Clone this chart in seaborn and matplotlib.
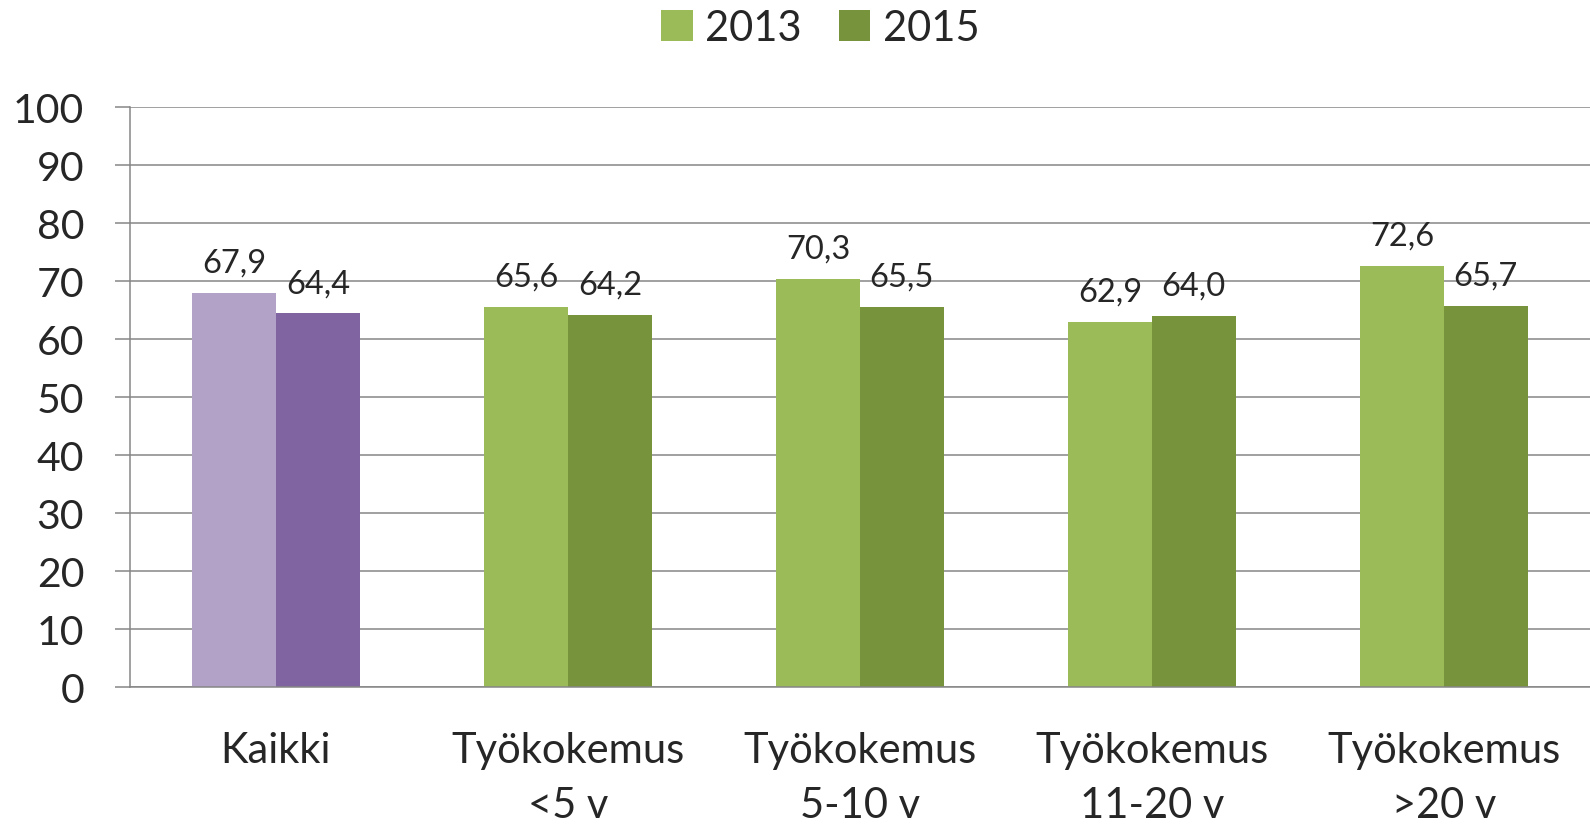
import matplotlib.pyplot as plt
import pandas as pd
import seaborn as sns

categories = ["Kaikki", "Työkokemus\n<5 v", "Työkokemus\n5-10 v",
              "Työkokemus\n11-20 v", "Työkokemus\n>20 v"]
years = ["2013", "2015"]
values_2013 = [67.9, 65.6, 70.3, 62.9, 72.6]
values_2015 = [64.4, 64.2, 65.5, 64.0, 65.7]
y_ticks = [0, 10, 20, 30, 40, 50, 60, 70, 80, 90, 100]

green = ["#9BBB59", "#77933C"]
purple = ["#B2A2C7", "#8064A2"]
grid_col = "#868686"

df = pd.DataFrame({
    "cat": categories * 2,
    "year": [years[0]] * len(categories) + [years[1]] * len(categories),
    "value": values_2013 + values_2015,
})

sns.set_style("white")
plt.rcParams["font.family"] = ["Lato", "DejaVu Sans"]

fig = plt.figure(figsize=(15.9, 8.28), dpi=100)
ax = fig.add_axes([130 / 1590, 1 - 688 / 828, 1 - 130 / 1590, (688 - 108) / 828])

sns.barplot(data=df, x="cat", y="value", hue="year", order=categories,
            hue_order=years, palette=green, width=0.573, saturation=1,
            linewidth=0, ax=ax)

# first group ("Kaikki") is drawn in purple
for i, cont in enumerate(ax.containers):
    cont.patches[0].set_facecolor(purple[i])
    ax.bar_label(cont, labels=[f"{v:.1f}".replace(".", ",") for v in cont.datavalues],
                 padding=11, fontsize=23.5)

ax.set_ylim(0, 100)
ax.set_xlim(-0.5, len(categories) - 0.5)
ax.set_yticks(y_ticks)
ax.yaxis.grid(True, color=grid_col, linewidth=1.1)
ax.set_axisbelow(True)
ax.set_xlabel("")
ax.set_ylabel("")

ax.set_xticks(range(len(categories)))
ax.set_xticklabels(categories, fontsize=30, linespacing=1.55)
ax.set_xticks([i - 0.5 for i in range(len(categories))], minor=True)
ax.tick_params(axis="x", which="major", length=0, pad=32)
ax.tick_params(axis="x", which="minor", length=11, width=1.1, color=grid_col, direction="out")
ax.tick_params(axis="y", length=11, width=1.1, color=grid_col, direction="out",
               pad=22, labelsize=29.5, left=True)

for side in ["top", "right"]:
    ax.spines[side].set_visible(False)
for side in ["left", "bottom"]:
    ax.spines[side].set_color(grid_col)
    ax.spines[side].set_linewidth(1.1)

handles, labels = ax.get_legend_handles_labels()
ax.get_legend().remove()
fig.legend(handles, labels, loc="upper center", bbox_to_anchor=(0.516, 1.033),
           ncol=2, frameon=False, fontsize=30, handlelength=0.75, handleheight=0.75,
           handletextpad=0.3, columnspacing=0.9)

fig.savefig("out.png", dpi=100)
